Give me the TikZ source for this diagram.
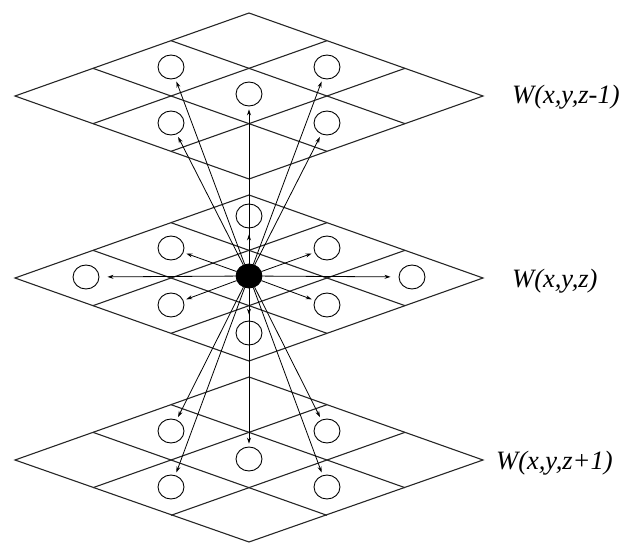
\documentclass[tikz,border=0pt]{standalone}
\usepackage{fontspec}
\setmainfont{Liberation Serif}
\usetikzlibrary{shapes.geometric,arrows.meta}

\tikzset{
  gridline/.style={draw=black!85, line width=1.1pt},
  cell/.style={ellipse, draw, line width=0.9pt, minimum width=26pt, minimum height=24pt, inner sep=0pt},
  source/.style={cell, fill=black},
  link/.style={line width=0.8pt, -{Stealth[length=6pt,width=4pt]}, shorten >=3pt},
  layerlabel/.style={anchor=west, inner sep=0pt, font=\fontsize{26.5}{30}\selectfont\itshape},
}

\begin{document}
\begin{tikzpicture}[x=1pt, y=-1pt]
\useasboundingbox (0,0) rectangle (622,543);

% Upper plane (z-1)
\draw[gridline] (15,96) -- (249,13) -- (483,96) -- (249,179) -- cycle;
\draw[gridline] (93,68.33) -- (327,151.33);
\draw[gridline] (171,40.67) -- (405,123.67);
\draw[gridline] (93,123.67) -- (327,40.67);
\draw[gridline] (171,151.33) -- (405,68.33);

% Middle plane (z)
\draw[gridline] (15,278) -- (249,195) -- (483,278) -- (249,361) -- cycle;
\draw[gridline] (93,250.33) -- (327,333.33);
\draw[gridline] (171,222.67) -- (405,305.67);
\draw[gridline] (93,305.67) -- (327,222.67);
\draw[gridline] (171,333.33) -- (405,250.33);

% Lower plane (z+1)
\draw[gridline] (15,460) -- (249,377) -- (483,460) -- (249,542) -- cycle;
\draw[gridline] (93,432.33) -- (327,515.33);
\draw[gridline] (171,404.67) -- (405,487.67);
\draw[gridline] (93,487.67) -- (327,404.67);
\draw[gridline] (171,515.33) -- (405,432.33);

% Neighbours in the upper plane
\node[cell] (u1) at (171,67) {};
\node[cell] (u2) at (327,67) {};
\node[cell] (u3) at (249,94) {};
\node[cell] (u4) at (171,123) {};
\node[cell] (u5) at (327,123) {};

% Neighbours in the middle plane, voxel in the centre
\node[source] (s) at (249,276) {};
\node[cell] (m1) at (249,216) {};
\node[cell] (m2) at (171,248) {};
\node[cell] (m3) at (327,248) {};
\node[cell] (m4) at (86,277) {};
\node[cell] (m5) at (412,277) {};
\node[cell] (m6) at (171,305) {};
\node[cell] (m7) at (327,305) {};
\node[cell] (m8) at (249,333) {};

% Neighbours in the lower plane
\node[cell] (d1) at (171,431) {};
\node[cell] (d2) at (327,431) {};
\node[cell] (d3) at (249,459) {};
\node[cell] (d4) at (171,487) {};
\node[cell] (d5) at (327,487) {};

% Links to the upper plane
\draw[link] (s) -- (u1);
\draw[link] (s) -- (u2);
\draw[link] (s) -- (u3);
\draw[link] (s) -- (u4);
\draw[link] (s) -- (u5);

% Links inside the middle plane
\draw[link, shorten >=6pt] (s) -- (m1);
\draw[link, shorten >=3pt] (s) -- (m2);
\draw[link, shorten >=3pt] (s) -- (m3);
\draw[link, shorten >=8pt] (s) -- (m4);
\draw[link, shorten >=8pt] (s) -- (m5);
\draw[link, shorten >=3pt] (s) -- (m6);
\draw[link, shorten >=3pt] (s) -- (m7);
\draw[link, shorten >=6pt] (s) -- (m8);

% Links to the lower plane
\draw[link] (s) -- (d1);
\draw[link] (s) -- (d2);
\draw[link] (s) -- (d3);
\draw[link] (s) -- (d4);
\draw[link] (s) -- (d5);

% Plane labels
\node[layerlabel] (wtop) at (512,97) {W(x,y,z-1)};
\node[layerlabel] (wmid) at (512,281) {W(x,y,z)};
\node[layerlabel] (wbot) at (496,463) {W(x,y,z+1)};
\end{tikzpicture}
\end{document}
